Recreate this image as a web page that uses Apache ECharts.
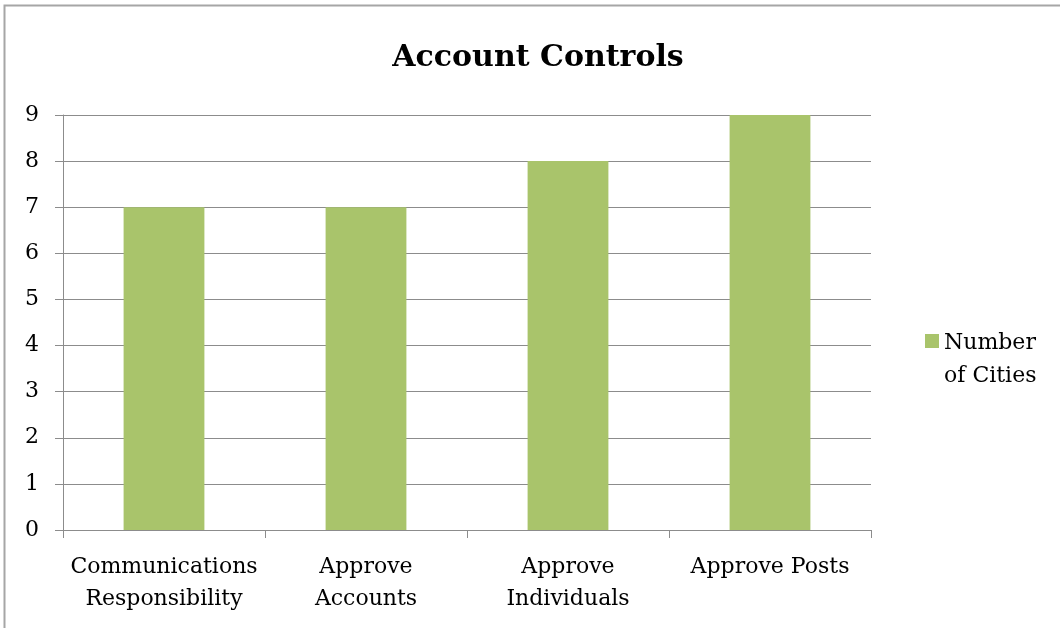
<!DOCTYPE html>
<html><head><meta charset="utf-8">
<script src="https://cdn.jsdelivr.net/npm/echarts@6/dist/echarts.min.js"></script>
<style>html,body{margin:0;padding:0;background:#fff}#c{width:1060px;height:628px}</style>
</head><body><div id="c"></div>
<script>
const titleText = 'Account Controls';
const categories = ['Communications\nResponsibility', 'Approve\nAccounts', 'Approve\nIndividuals', 'Approve Posts'];
const seriesName = 'Number\nof Cities';
const values = [7, 7, 8, 9];
const yTicks = [0, 9, 1];

const font = 'DejaVu Serif';
const chart = echarts.init(document.getElementById('c'), null, {renderer: 'canvas'});
chart.setOption({
  backgroundColor: '#fff',
  animation: false,
  graphic: [{type: 'rect', shape: {x: 4.5, y: 5.5, width: 1200, height: 800}, style: {fill: 'none', stroke: '#a6a6a6', lineWidth: 2}}],
  title: {text: titleText, left: 533, top: 38, textAlign: 'center',
    textStyle: {fontFamily: font, fontWeight: 'bold', fontSize: 30, color: '#000'}},
  legend: {show: true, orient: 'vertical', left: 920, top: 322, itemWidth: 14, itemHeight: 52, itemGap: 4,
    icon: 'path://M0,0L14,0L14,14L0,14Z M0,52', 
    textStyle: {fontFamily: font, fontSize: 22, color: '#000', lineHeight: 33}},
  grid: {left: 63, right: 189, top: 115, bottom: 98, containLabel: false},
  xAxis: {type: 'category', data: categories,
    axisLine: {lineStyle: {color: '#8c8c8c', width: 1}},
    axisTick: {show: true, length: 8, lineStyle: {color: '#8c8c8c'}},
    axisLabel: {fontFamily: font, fontSize: 22, color: '#000', margin: 21, lineHeight: 32, interval: 0}},
  yAxis: {type: 'value', min: yTicks[0], max: yTicks[1], interval: yTicks[2],
    axisLine: {show: true, lineStyle: {color: '#8c8c8c'}},
    axisTick: {show: true, length: 8, lineStyle: {color: '#8c8c8c'}},
    splitLine: {lineStyle: {color: '#8c8c8c', width: 1}},
    axisLabel: {fontFamily: font, fontSize: 22, color: '#000', margin: 24}},
  series: [{name: seriesName, type: 'bar', data: values, barWidth: '40%',
    itemStyle: {color: '#a9c46b'}}]
});
</script></body></html>
